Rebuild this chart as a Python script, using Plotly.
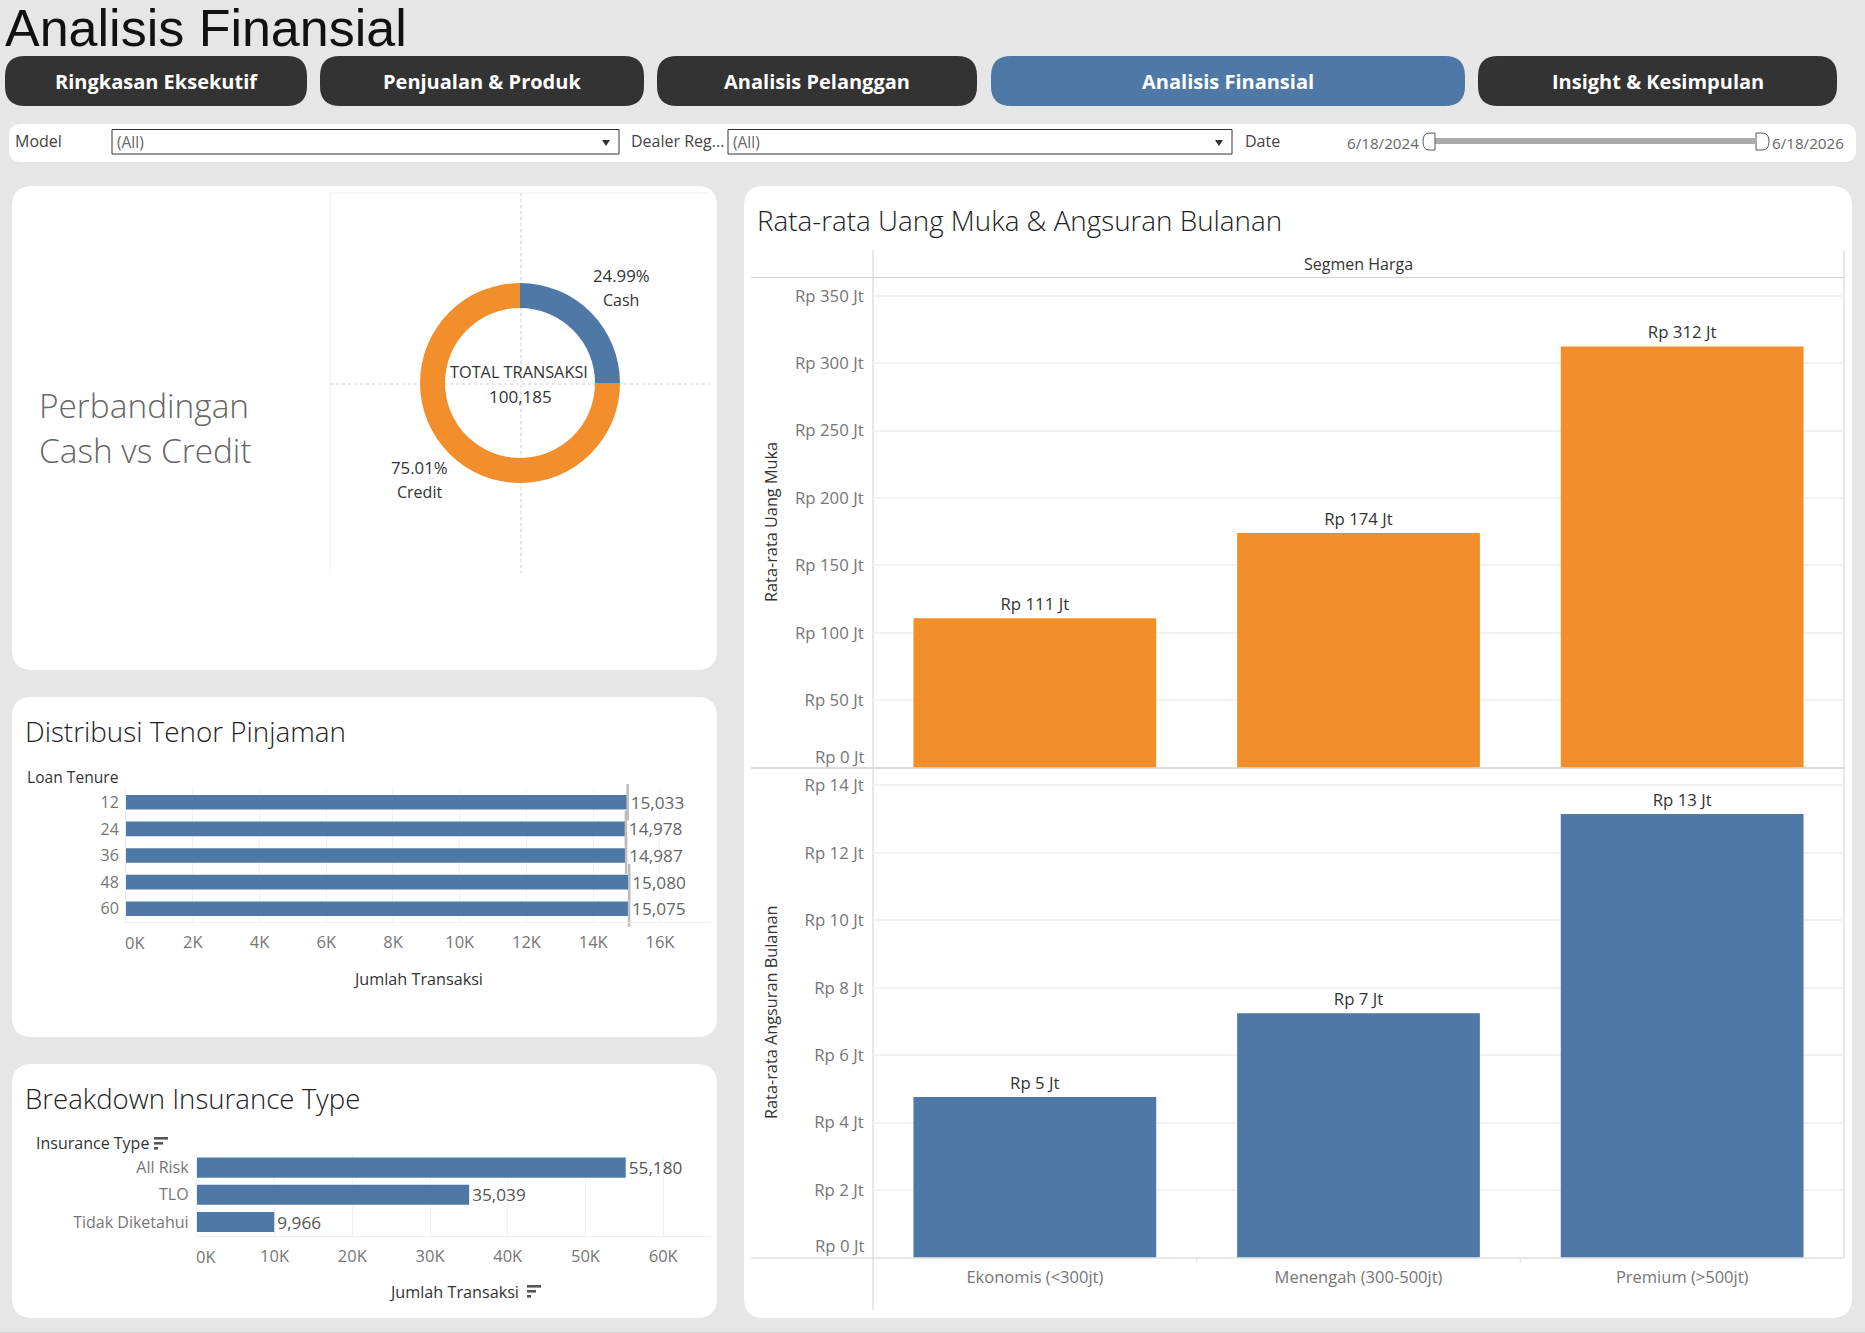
import plotly.graph_objects as go

# ---------- data ----------
page_title = "Analisis Finansial"
nav_labels = ["Ringkasan Eksekutif", "Penjualan & Produk", "Analisis Pelanggan", "Analisis Finansial", "Insight & Kesimpulan"]

pay_labels = ["Cash", "Credit"]
pay_values = [25036, 75149]
pay_total = 100185

tenure_labels = ["12", "24", "36", "48", "60"]
tenure_values = [15033, 14978, 14987, 15080, 15075]
tenure_ticks = [0, 2000, 4000, 6000, 8000, 10000, 12000, 14000, 16000]

insurance_labels = ["All Risk", "TLO", "Tidak Diketahui"]
insurance_values = [55180, 35039, 9966]
insurance_ticks = [0, 10000, 20000, 30000, 40000, 50000, 60000]

segments = ["Ekonomis (<300jt)", "Menengah (300-500jt)", "Premium (>500jt)"]
dp_values = [110.8, 174.0, 312.4]
installment_values = [4.76, 7.24, 13.15]
dp_ticks = [0, 50, 100, 150, 200, 250, 300, 350]
installment_ticks = [0, 2, 4, 6, 8, 10, 12, 14]

# ---------- style ----------
W, H = 1865, 1333
BG = "#E6E6E6"
DARK = "#333333"
BLUE = "#4E79A7"
ORANGE = "#F28E2B"
GRID = "#F2F2F2"
LINE = "#D0D0D0"
TICK = "#767676"
FONT = "Open Sans"
TITLE_W = 300

shapes, notes = [], []


def px(x):
    return x / W


def py(y):
    return 1 - y / H


def text(x, y, s, size=15, color=DARK, anchor="center", angle=0, bold=False, font=FONT, weight=None):
    f = dict(family=font, size=size, color=color)
    if bold:
        f["weight"] = 700
    if weight:
        f["weight"] = weight
    notes.append(dict(xref="paper", yref="paper", x=px(x), y=py(y), text=s, showarrow=False,
                      xanchor=anchor, yanchor="middle", font=f, textangle=angle,
                      borderpad=0, borderwidth=0))


def rrect(x0, y0, x1, y1, r, fill, line=None, lw=0):
    d = (f"M{px(x0 + r)},{py(y0)} L{px(x1 - r)},{py(y0)} Q{px(x1)},{py(y0)} {px(x1)},{py(y0 + r)} "
         f"L{px(x1)},{py(y1 - r)} Q{px(x1)},{py(y1)} {px(x1 - r)},{py(y1)} "
         f"L{px(x0 + r)},{py(y1)} Q{px(x0)},{py(y1)} {px(x0)},{py(y1 - r)} "
         f"L{px(x0)},{py(y0 + r)} Q{px(x0)},{py(y0)} {px(x0 + r)},{py(y0)} Z")
    shapes.append(dict(type="path", xref="paper", yref="paper", path=d, fillcolor=fill,
                       line=dict(color=line or fill, width=lw), layer="below"))


def rect(x0, y0, x1, y1, fill, line=None, lw=0):
    shapes.append(dict(type="rect", xref="paper", yref="paper", x0=px(x0), x1=px(x1), y0=py(y0), y1=py(y1),
                       fillcolor=fill, line=dict(color=line or fill, width=lw), layer="below"))


def seg(x0, y0, x1, y1, color=LINE, lw=1, dash="solid"):
    shapes.append(dict(type="line", xref="paper", yref="paper", x0=px(x0), x1=px(x1), y0=py(y0), y1=py(y1),
                       line=dict(color=color, width=lw, dash=dash), layer="below"))


def poly(points, fill, line=None, lw=0):
    d = "M" + " L".join(f"{px(a)},{py(b)}" for a, b in points) + " Z"
    shapes.append(dict(type="path", xref="paper", yref="paper", path=d, fillcolor=fill,
                       line=dict(color=line or fill, width=lw), layer="below"))


def sort_icon(x, y):
    for i, w in enumerate([14, 9, 4]):
        rect(x, y + i * 5, x + w, y + i * 5 + 2.6, "#555555")


def money(v):
    return f"Rp {round(v)} Jt"


def kilo(v):
    return f"{v // 1000}K"


# ---------- page furniture ----------
text(5, 28.5, page_title, size=52, color="#111111", anchor="left", font="Liberation Sans")

nav_boxes = [(5, 307), (320, 644), (657, 977), (991, 1465), (1478, 1837)]
for (a, b), lab in zip(nav_boxes, nav_labels):
    rrect(a, 56, b, 106, 20, BLUE if lab == page_title else DARK)
    text((a + b) / 2, 81.5, lab, size=20, color="white", bold=True)

rrect(9, 124, 1856, 162, 12, "white")
text(15, 141, "Model", size=16, anchor="left", color="#444444")
text(631, 141, "Dealer Reg...", size=16, anchor="left", color="#444444")
text(1245, 141, "Date", size=16, anchor="left", color="#444444")
for a, b in [(112, 619), (728, 1232)]:
    rect(a, 129.5, b, 154, "white", line="#333333", lw=1)
    text(a + 5, 142.5, "(All)", size=15.5, anchor="left", color="#666666")
    poly([(b - 17, 140), (b - 9, 140), (b - 13, 146)], "#333333")
text(1419, 143, "6/18/2024", size=15.2, anchor="right", color="#666666")
text(1772, 143, "6/18/2026", size=15.2, anchor="left", color="#666666")
rect(1435, 138, 1755, 144, "#ABABAB")
for a, b in [(1423, 1435), (1769, 1756)]:
    d = (f"M{px(b)},{py(133)} L{px(b)},{py(150)} L{px((a + b) / 2)},{py(150)} "
         f"Q{px(a)},{py(150)} {px(a)},{py(141.5)} Q{px(a)},{py(133)} {px((a + b) / 2)},{py(133)} Z")
    shapes.append(dict(type="path", xref="paper", yref="paper", path=d, fillcolor="white",
                       line=dict(color="#555555", width=1), layer="below"))

rrect(12, 186, 717, 670, 20, "white")
rrect(12, 697, 717, 1037, 20, "white")
rrect(12, 1064, 717, 1318, 20, "white")
rrect(744, 186, 1852, 1318, 20, "white")
seg(0, 1332.5, W, 1332.5, "#D4D4D4", 1)

# ---------- donut panel ----------
text(39, 405, "Perbandingan", size=33.4, color="#666666", anchor="left", weight=TITLE_W)
text(39, 450, "Cash vs Credit", size=33.4, color="#666666", anchor="left", weight=TITLE_W)
seg(330, 193, 710, 193, "#F0F0F0")
seg(330, 193, 330, 573, "#F0F0F0")
seg(521, 193, 521, 573, "#CCCCCC", 1, "dot")
seg(330, 384, 710, 384, "#CCCCCC", 1, "dot")
pay_share = [f"{v / pay_total * 100:.2f}%" for v in pay_values]
text(621, 276, pay_share[0], size=16.8)
text(621, 300, pay_labels[0], size=16)
text(419, 468, pay_share[1], size=16.8)
text(419, 492, pay_labels[1], size=16)
text(519, 372, "TOTAL TRANSAKSI", size=16.3)
text(520, 396.5, f"{pay_total:,}", size=17)

# ---------- small panel titles ----------
text(25, 731.5, "Distribusi Tenor Pinjaman", size=27.8, color="#222222", anchor="left", weight=TITLE_W)
text(25, 1097.5, "Breakdown Insurance Type", size=27.6, color="#222222", anchor="left", weight=TITLE_W)
text(757, 220, "Rata-rata Uang Muka & Angsuran Bulanan", size=27.8, color="#222222", anchor="left", weight=TITLE_W)

text(27, 776.5, "Loan Tenure", size=15.6, anchor="left")
text(418, 979, "Jumlah Transaksi", size=16.2)
text(135, 942.5, kilo(tenure_ticks[0]), size=16.5, color=TICK)

text(36, 1143, "Insurance Type", size=16, anchor="left")
sort_icon(154, 1137)
text(453.5, 1292, "Jumlah Transaksi", size=16.2)
sort_icon(527, 1285)
text(206, 1256, kilo(insurance_ticks[0]), size=16.5, color=TICK)

# ---------- right panel furniture ----------
text(1358, 264, "Segmen Harga", size=16)
seg(873, 250, 873, 1310)
seg(1844, 250, 1844, 1258)
seg(751, 277.5, 1844, 277.5)
seg(751, 768, 1844, 768, "#CFCFCF", 1.5)
seg(751, 1258, 1844, 1258)
seg(1196.6, 1258, 1196.6, 1263, "#E0E0E0")
seg(1520.3, 1258, 1520.3, 1263, "#E0E0E0")
text(771, 522, "Rata-rata Uang Muka", size=16.3, angle=-90, color="#333333")
text(771, 1013, "Rata-rata Angsuran Bulanan", size=16.3, angle=-90, color="#333333")
text(863.5, 756, money(dp_ticks[0]), size=16.8, color=TICK, anchor="right")
text(863.5, 1245.5, money(installment_ticks[0]), size=16.8, color=TICK, anchor="right")

# ---------- traces ----------
fig = go.Figure()
fig.add_trace(go.Pie(labels=pay_labels, values=pay_values, hole=0.75, sort=False, direction="clockwise",
                     rotation=0, marker=dict(colors=[BLUE, ORANGE], line=dict(width=0)),
                     textinfo="none", hoverinfo="skip", showlegend=False,
                     domain=dict(x=[px(420), px(620)], y=[py(483), py(283)])))

txt_tick = dict(family=FONT, size=16.5, color=TICK)
txt_cat = dict(family=FONT, size=16, color=TICK)
txt_money = dict(family=FONT, size=16.8, color=TICK)
fig.add_trace(go.Bar(x=tenure_values, y=tenure_labels, orientation="h", xaxis="x", yaxis="y",
                     marker=dict(color=BLUE, line=dict(width=0)), width=0.55, showlegend=False,
                     text=[f"{v:,}" for v in tenure_values], textposition="outside", constraintext="none",
                     textfont=dict(family=FONT, size=17.2, color="#666666"), cliponaxis=False))
fig.add_trace(go.Scatter(x=tenure_values, y=tenure_labels, mode="markers", xaxis="x", yaxis="y", showlegend=False,
                         marker=dict(symbol="line-ns", size=26, line=dict(color="#BDBDBD", width=2.5)),
                         cliponaxis=False, hoverinfo="skip"))
fig.add_trace(go.Bar(x=insurance_values, y=insurance_labels, orientation="h", xaxis="x2", yaxis="y2",
                     marker=dict(color=BLUE, line=dict(width=0)), width=0.74, showlegend=False,
                     text=[f"{v:,}" for v in insurance_values], textposition="outside", constraintext="none",
                     textfont=dict(family=FONT, size=17.2, color="#555555"), cliponaxis=False))
lab_font = dict(family=FONT, size=16.8, color=DARK)
fig.add_trace(go.Bar(x=segments, y=dp_values, xaxis="x3", yaxis="y3", width=0.75, showlegend=False,
                     marker=dict(color=ORANGE, line=dict(width=0)), constraintext="none",
                     text=[money(v) for v in dp_values], textposition="outside", textfont=lab_font, cliponaxis=False))
fig.add_trace(go.Bar(x=segments, y=installment_values, xaxis="x4", yaxis="y4", width=0.75, showlegend=False,
                     marker=dict(color=BLUE, line=dict(width=0)), constraintext="none",
                     text=[money(v) for v in installment_values], textposition="outside", textfont=lab_font, cliponaxis=False))


def value_x(domain, rng, ticks, anchor, ticklen):
    return dict(domain=domain, range=rng, tickmode="array", tickvals=ticks,
                ticktext=[""] + [kilo(t) for t in ticks[1:]], tickfont=txt_tick, showgrid=True, gridcolor=GRID,
                gridwidth=1, zeroline=False, showline=True, linecolor="#EEEEEE", linewidth=1, ticks="outside",
                ticklen=ticklen, tickcolor="rgba(0,0,0,0)", anchor=anchor, fixedrange=True)


def cat_y(domain, count, anchor, ticklen):
    return dict(domain=domain, type="category", range=[count - 0.5, -0.5], tickfont=txt_cat, showgrid=False,
                zeroline=False, showline=True, linecolor="#EEEEEE", linewidth=1, ticks="outside", ticklen=ticklen,
                tickcolor="rgba(0,0,0,0)", anchor=anchor, fixedrange=True)


def value_y(domain, rng, ticks, anchor):
    return dict(domain=domain, range=rng, tickmode="array", tickvals=ticks,
                ticktext=[""] + [money(t) for t in ticks[1:]], tickfont=txt_money, showgrid=True, gridcolor=GRID,
                gridwidth=2, zeroline=False, showline=False, ticks="outside", ticklen=5,
                tickcolor="rgba(0,0,0,0)", anchor=anchor, fixedrange=True)


dom_right = [px(873), px(1844)]
fig.update_layout(
    width=W, height=H, autosize=False, margin=dict(l=0, r=0, t=0, b=0, pad=0),
    paper_bgcolor=BG, plot_bgcolor="rgba(0,0,0,0)", hovermode=False, showlegend=False,
    font=dict(family=FONT), shapes=shapes, annotations=notes, barmode="overlay",
    xaxis=value_x([px(126), px(711)], [0, 17530], tenure_ticks, "y", 5),
    yaxis=cat_y([py(922), py(789)], len(tenure_labels), "x", 3),
    xaxis2=value_x([px(196.8), px(711)], [0, 66150], insurance_ticks, "y2", 6),
    yaxis2=cat_y([py(1235.6), py(1154)], len(insurance_labels), "x2", 4),
    xaxis3=dict(domain=dom_right, type="category", showticklabels=False, showgrid=False, zeroline=False,
                anchor="y3", fixedrange=True),
    yaxis3=value_y([py(767.5), py(277.5)], [0, 363.5], dp_ticks, "x3"),
    xaxis4=dict(domain=dom_right, type="category", tickfont=txt_tick, showgrid=False, zeroline=False,
                anchor="y4", fixedrange=True, ticks="outside", ticklen=5, tickcolor="rgba(0,0,0,0)"),
    yaxis4=value_y([py(1257.5), py(768.5)], [0, 14.5], installment_ticks, "x4"),
)

fig.write_html("out.html", config=dict(displayModeBar=False),
               post_script="document.body.style.margin='0';document.body.style.overflow='hidden';document.body.style.background='#E6E6E6';")
